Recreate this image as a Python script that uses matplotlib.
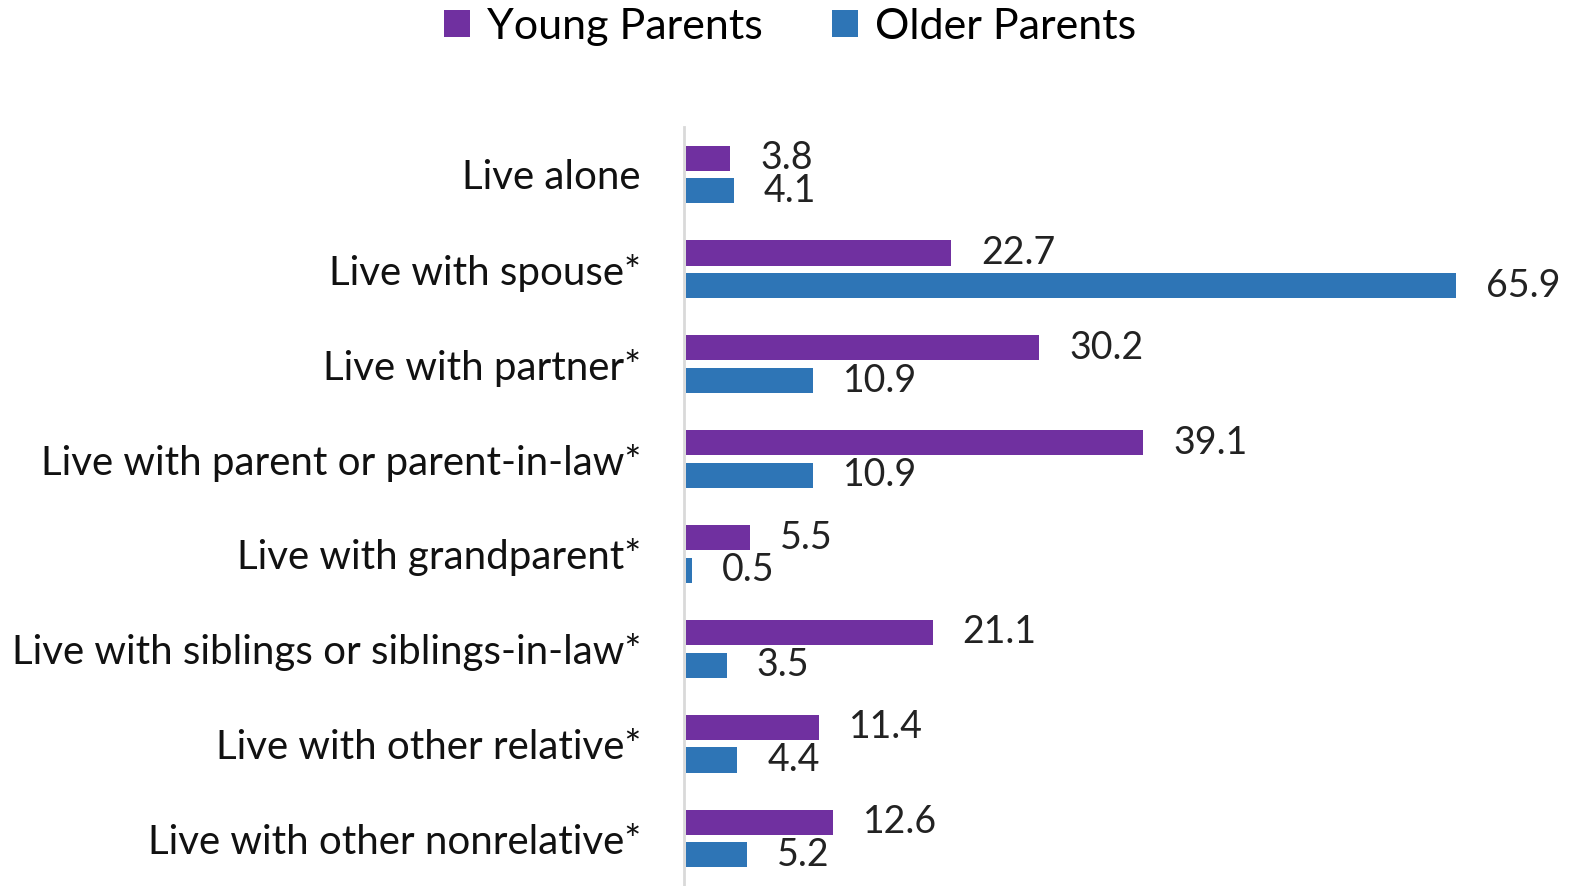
import matplotlib
matplotlib.use("Agg")
import matplotlib.pyplot as plt
import numpy as np

categories = ["Live alone", "Live with spouse*", "Live with partner*",
              "Live with parent or parent-in-law*", "Live with grandparent*",
              "Live with siblings or siblings-in-law*", "Live with other relative*",
              "Live with other nonrelative*"]
young = [3.8, 22.7, 30.2, 39.1, 5.5, 21.1, 11.4, 12.6]
older = [4.1, 65.9, 10.9, 10.9, 0.5, 3.5, 4.4, 5.2]
series_names = ["Young Parents", "Older Parents"]
colors = ["#7030A0", "#2E75B6"]

plt.rcParams['font.family'] = ['Lato', 'DejaVu Sans']

W, H = 1573, 886
fig = plt.figure(figsize=(W/100, H/100), dpi=100)
ax = fig.add_axes([684/W, 0, (W-684)/W, (886-127)/H])

y = np.arange(len(categories))
h = 0.265
off = 0.172
ax.barh(y - off, young, height=h, color=colors[0], label=series_names[0])
ax.barh(y + off, older, height=h, color=colors[1], label=series_names[1])

px_per_unit = (1458 - 686) / 65.9
xmax = (W - 684) / px_per_unit
ax.set_xlim(-2/px_per_unit, xmax)
ax.set_ylim(len(categories) - 0.5, -0.5)

fs_lab = 29
fs_val = 27
fs_leg = 31
for i in range(len(categories)):
    ax.annotate(f"{young[i]:.1f}", (young[i], y[i] - off), xytext=(30, 0),
                textcoords="offset pixels", va="center", ha="left", fontsize=fs_val, color="#222222")
    ax.annotate(f"{older[i]:.1f}", (older[i], y[i] + off), xytext=(30, 0),
                textcoords="offset pixels", va="center", ha="left", fontsize=fs_val, color="#222222")

ax.set_yticks(y)
ax.set_yticklabels(categories, fontsize=fs_lab, color="#111111")
ax.tick_params(axis='y', length=0, pad=31)
ax.set_xticks([])
for s in ["top", "right", "bottom"]:
    ax.spines[s].set_visible(False)
ax.spines["left"].set_color("#D9D9D9")
ax.spines["left"].set_linewidth(2)

handles, labels = ax.get_legend_handles_labels()
fig.legend(handles, labels, loc="center", bbox_to_anchor=(790/W, 1 - 27/H), ncol=2,
           frameon=False, fontsize=fs_leg, handlelength=0.6, handleheight=0.6,
           columnspacing=1.6, handletextpad=0.4)

fig.savefig("out.png", dpi=100)
